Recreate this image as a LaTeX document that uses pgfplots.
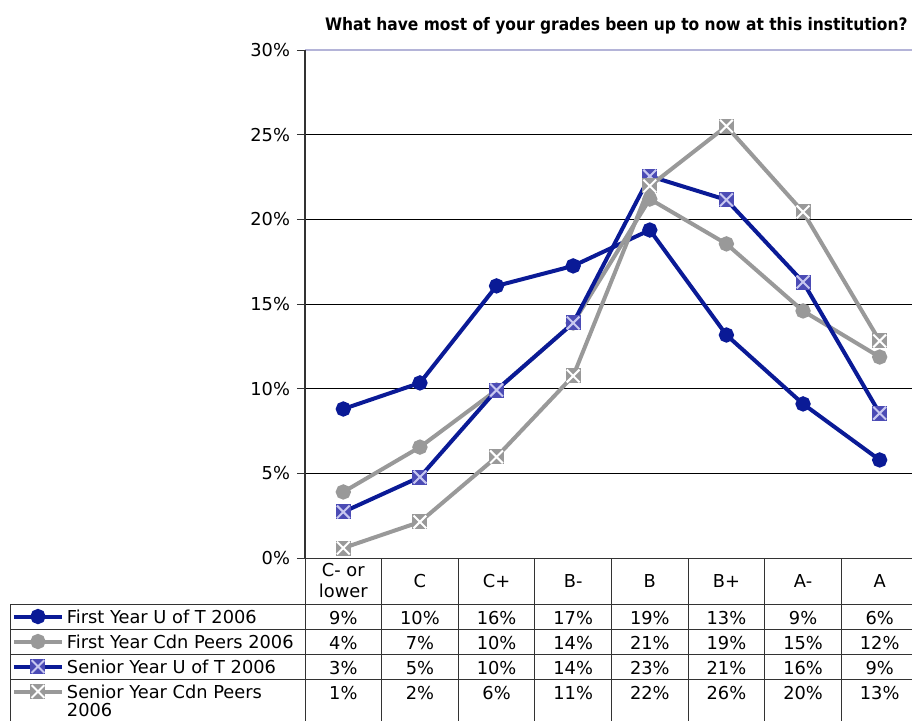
\documentclass[border=0pt]{standalone}
\usepackage{fontspec}
\setmainfont{DejaVu Sans}
\newfontfamily\titlefont{DejaVu Sans Condensed}
\usepackage{pgfplots}
\usepackage{pgfplotstable}
\pgfplotsset{compat=1.18}
\definecolor{navy}{HTML}{0A1A96}
\definecolor{peergray}{HTML}{999999}
\definecolor{sqblue}{HTML}{4B4BB5}
\definecolor{sqlight}{HTML}{C8C8F0}
\definecolor{topline}{HTML}{B4B4D8}
\definecolor{rule}{HTML}{333333}

% square markers with a cross
\pgfdeclareplotmark{sqxblue}{%
  \pgfpathrectangle{\pgfpoint{-\pgfplotmarksize}{-\pgfplotmarksize}}{\pgfpoint{2\pgfplotmarksize}{2\pgfplotmarksize}}%
  \pgfsetfillcolor{sqblue}\pgfusepath{fill}%
  \pgfsetstrokecolor{sqlight}\pgfsetlinewidth{1pt}%
  \pgfpathmoveto{\pgfpoint{-0.85\pgfplotmarksize}{-0.85\pgfplotmarksize}}\pgfpathlineto{\pgfpoint{0.85\pgfplotmarksize}{0.85\pgfplotmarksize}}%
  \pgfpathmoveto{\pgfpoint{-0.85\pgfplotmarksize}{0.85\pgfplotmarksize}}\pgfpathlineto{\pgfpoint{0.85\pgfplotmarksize}{-0.85\pgfplotmarksize}}%
  \pgfusepath{stroke}}
\pgfdeclareplotmark{sqxgray}{%
  \pgfpathrectangle{\pgfpoint{-\pgfplotmarksize}{-\pgfplotmarksize}}{\pgfpoint{2\pgfplotmarksize}{2\pgfplotmarksize}}%
  \pgfsetfillcolor{peergray}\pgfusepath{fill}%
  \pgfsetstrokecolor{white}\pgfsetlinewidth{1pt}%
  \pgfpathmoveto{\pgfpoint{-0.85\pgfplotmarksize}{-0.85\pgfplotmarksize}}\pgfpathlineto{\pgfpoint{0.85\pgfplotmarksize}{0.85\pgfplotmarksize}}%
  \pgfpathmoveto{\pgfpoint{-0.85\pgfplotmarksize}{0.85\pgfplotmarksize}}\pgfpathlineto{\pgfpoint{0.85\pgfplotmarksize}{-0.85\pgfplotmarksize}}%
  \pgfusepath{stroke}}

\pgfplotstableread{
x fyu fyc syu syc
0 8.80 3.90 2.72 0.59
1 10.34 6.55 4.78 2.13
2 16.07 9.92 9.92 5.97
3 17.25 13.88 13.88 10.75
4 19.37 21.20 22.55 21.97
5 13.17 18.55 21.15 25.50
6 9.10 14.59 16.30 20.44
7 5.79 11.87 8.55 12.82
}\grades

\newcommand\txt{\fontsize{8.9}{10.5}\selectfont}

\begin{document}
\begin{tikzpicture}
\path[use as bounding box] (0,0) rectangle (456pt,-360pt);
\begin{axis}[
  at={(152.5pt,-279pt)}, anchor=south west,
  scale only axis, width=306.5pt, height=254pt,
  xmin=-0.5, xmax=7.5, ymin=0, ymax=30,
  xtick=\empty,
  ytick={0,5,...,25},
  extra y ticks={30},
  extra y tick style={grid style={topline, line width=0.8pt}},
  ymajorgrids, grid style={black, line width=0.5pt},
  yticklabel={\pgfmathprintnumber{\tick}\%},
  /pgf/number format/assume math mode=true,
  tick label style={font=\txt},
  tick align=outside, major tick length=4pt, ytick pos=left,
  ytick style={rule, line width=0.5pt},
  axis line style={draw=none},
  clip=false,
  legend cell align=left,
  legend style={at={(-0.478,-0.0906)}, anchor=north west, draw=none, fill=none,
    inner sep=0pt, outer sep=0pt, row sep=0pt, column sep=1.5pt, font=\txt,
    nodes={inner sep=0pt, text height=9.5pt, text depth=3pt}},
  legend image code/.code={\draw[mark repeat=2,mark phase=2,#1] plot coordinates {(0pt,0pt)(12pt,0pt)(24pt,0pt)};},
]
\draw[rule, line width=0.6pt] (rel axis cs:0,0) -- (rel axis cs:0,1);
\addplot[navy, line width=2pt, mark=*, mark size=2.8pt, mark options={fill=navy}] table[x=x, y=fyu] {\grades};
\addlegendentry{First Year U of T 2006}
\addplot[peergray, line width=2pt, mark=*, mark size=2.8pt, mark options={fill=peergray}] table[x=x, y=fyc] {\grades};
\addlegendentry{First Year Cdn Peers 2006}
\addplot[navy, line width=2pt, mark=sqxblue, mark size=3.75pt] table[x=x, y=syu] {\grades};
\addlegendentry{Senior Year U of T 2006}
\addplot[peergray, line width=2pt, mark=sqxgray, mark size=3.75pt] table[x=x, y=syc] {\grades};
\addlegendentry{\begin{tabular}[t]{@{}l@{}}Senior Year Cdn Peers\\[-1.5pt]2006\end{tabular}}
\end{axis}

\begin{scope}[x=0.5pt, y=-0.5pt]
\node[anchor=base east, inner sep=0pt, font=\titlefont\bfseries\fontsize{8.6}{10}\selectfont] at (908,30) {What have most of your grades been up to now at this institution?};
\begin{scope}[rule, line width=0.5pt]
\draw (305,558) -- (918,558);
\foreach \y in {604,629,654,679} \draw (10,\y) -- (918,\y);
\draw (10,604) -- (10,722);
\draw (305,558) -- (305,722);
\foreach \k in {1,...,7} \draw ({305+76.625*\k},558) -- ({305+76.625*\k},722);
\end{scope}
\foreach \c [count=\i from 0] in {{C- or\\lower},C,C+,B-,B,B+,A-,A}
  \node[font=\txt, align=center, inner sep=0pt] at ({305+76.625*(\i+0.5)},581) {\c};
\foreach \r [count=\j from 0] in {{9,10,16,17,19,13,9,6},{4,7,10,14,21,19,15,12},{3,5,10,14,23,21,16,9},{1,2,6,11,22,26,20,13}}
  \foreach \v [count=\i from 0] in \r
    \node[font=\txt, anchor=base, inner sep=0pt] at ({305+76.625*(\i+0.5)},{624+25*\j}) {\v\%};
\end{scope}
\end{tikzpicture}
\end{document}
